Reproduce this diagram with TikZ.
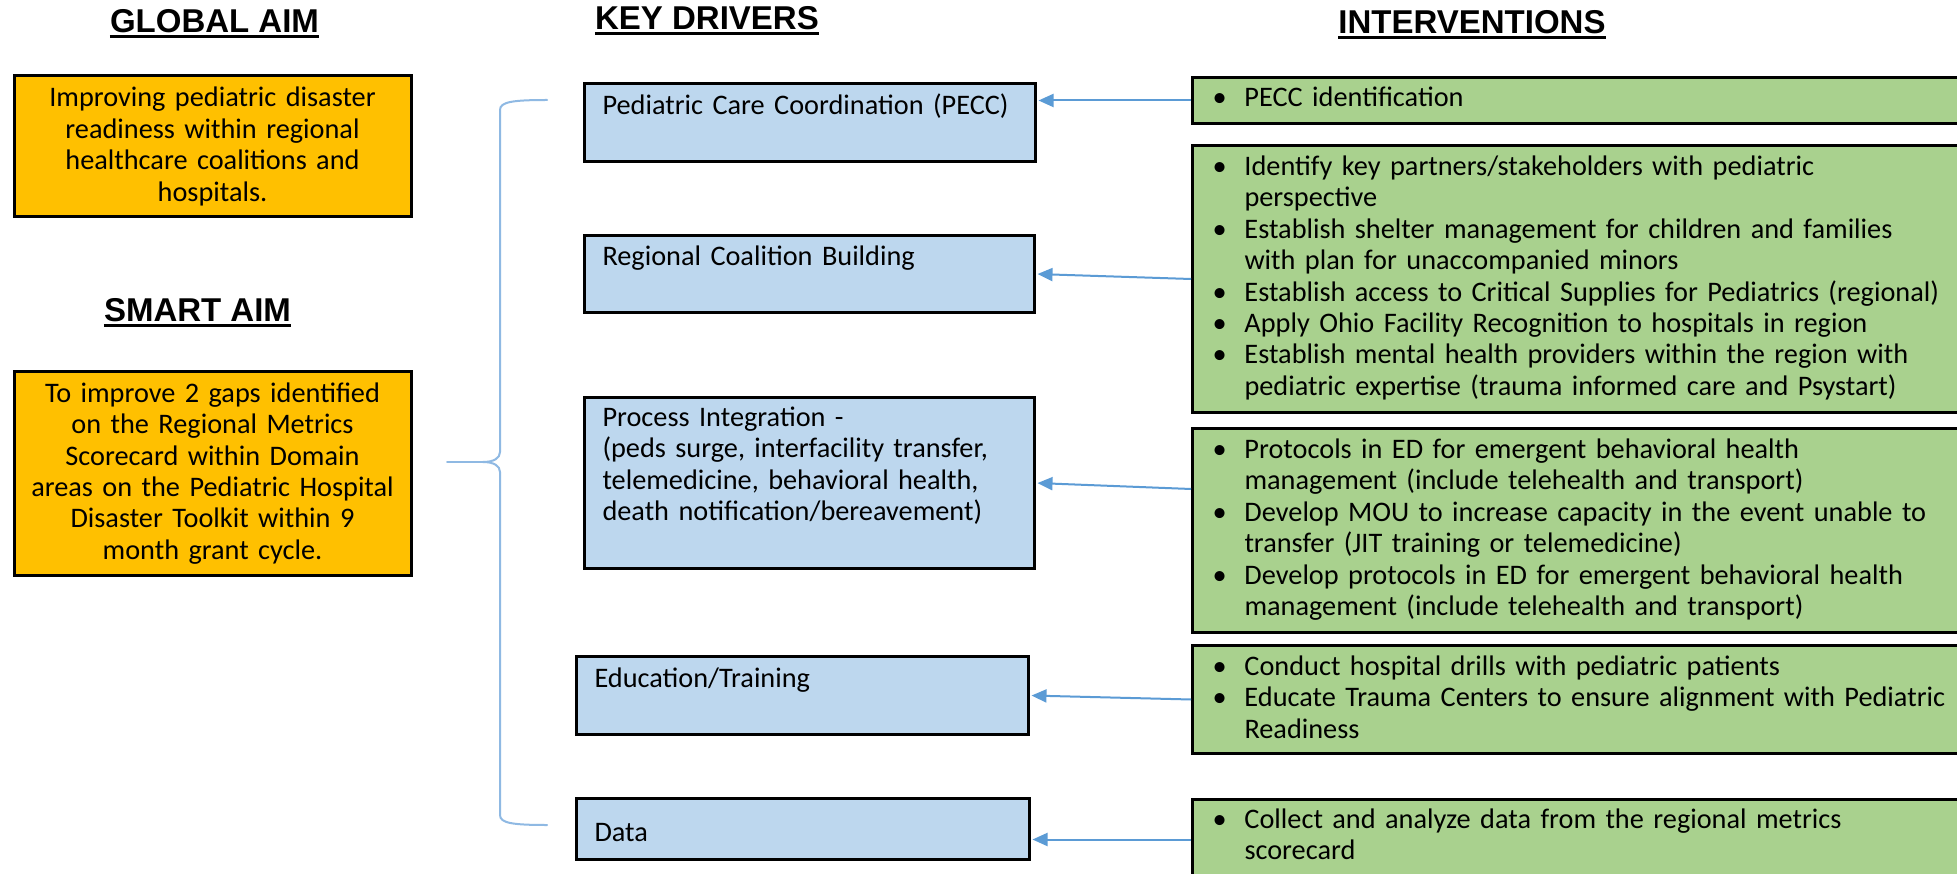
\documentclass[tikz,border=0pt]{standalone}
\usepackage{fontspec}
\setmainfont{Carlito}
\newfontfamily\headfont{Liberation Sans}
\usetikzlibrary{arrows.meta,calc}

\definecolor{aimorange}{HTML}{FFC000}
\definecolor{drvblue}{HTML}{BDD7EE}
\definecolor{actgreen}{HTML}{A9D18E}
\definecolor{arrowblue}{HTML}{5B9BD5}
\definecolor{braceblue}{HTML}{8FB9E3}

\newcommand{\bodysize}{\fontsize{28.3pt}{31.4pt}\selectfont}
% one bulleted entry with a hanging indent for its continuation lines
\newcommand{\bitem}[1]{\hangindent=32pt\hangafter=1\makebox[32pt][l]{\textbullet}#1\par}

\begin{document}
\begin{tikzpicture}[x=1pt,y=-1pt,
  heading/.style={font=\headfont\bfseries\fontsize{33pt}{38pt}\selectfont, inner sep=0pt, anchor=base},
  uline/.style={line width=2.5pt},
  aim/.style={draw=black, line width=3pt, fill=aimorange, inner sep=0pt, align=center,
              text width=390pt, minimum width=397pt, font=\bodysize},
  driver/.style={draw=black, line width=3pt, fill=drvblue, anchor=north west,
                 inner xsep=18pt, inner ysep=0pt, font=\bodysize},
  action/.style={draw=black, line width=3pt, fill=actgreen, anchor=north west,
                 inner xsep=20pt, inner ysep=0pt, text width=760pt, font=\bodysize},
  feed/.style={draw=arrowblue, line width=2pt, -{Triangle[length=15pt,width=13pt]}, shorten >=1.5pt},
  brace/.style={draw=braceblue, line width=2pt, line cap=round},
]
\useasboundingbox[fill=white] (0,0) rectangle (1957,874);

% column headings
\node[heading] (hglobal) at (214.5,33) {GLOBAL AIM};
\node[heading] (hsmart)  at (197.5,322) {SMART AIM};
\node[heading] (hkey)    at (707,30) {KEY DRIVERS};
\node[heading] (hint)    at (1472,34) {INTERVENTIONS};
\foreach \h in {hglobal,hsmart,hkey,hint}
  \draw[uline] ([yshift=-3.5pt]\h.base west) -- ([yshift=-3.5pt]\h.base east);

% aims
\node[aim, minimum height=141pt] (global) at (212.5,146.5)
  {Improving pediatric disaster\\ readiness within regional\\ healthcare coalitions and\\ hospitals.};
\node[aim, minimum height=203pt] (smart) at (212.5,473.5)
  {To improve 2 gaps identified\\ on the Regional Metrics\\ Scorecard within Domain\\ areas on the Pediatric Hospital\\ Disaster Toolkit within 9\\ month grant cycle.};

% key drivers
\node[driver, text width=415pt, text height=31pt, text depth=47pt] (pecc) at (583,82)
  {Pediatric Care Coordination (PECC)};
\node[driver, text width=414pt, text height=30pt, text depth=47pt] (reg) at (583,234)
  {Regional Coalition Building};
\node[driver, text width=414pt, text height=29pt, text depth=142pt] (proc) at (583,396)
  {Process Integration -\\ (peds surge, interfacility transfer,\\ telemedicine, behavioral health,\\ death notification/bereavement)};
\node[driver, text width=416pt, text height=31pt, text depth=47pt] (edu) at (575,655)
  {Education/Training};
\node[driver, text width=417pt, text height=43pt, text depth=18pt] (data) at (575,797)
  {Data};

% interventions
\node[action, text height=29pt, text depth=17pt] (g1) at (1191,76)
  {\bitem{PECC identification}};
\node[action, text height=30pt, text depth=237pt] (g2) at (1191,144)
  {\bitem{Identify key partners/stakeholders with pediatric\newline perspective}
   \bitem{Establish shelter management for children and families\newline with plan for unaccompanied minors}
   \bitem{Establish access to Critical Supplies for Pediatrics (regional)}
   \bitem{Apply Ohio Facility Recognition to hospitals in region}
   \bitem{Establish mental health providers within the region with\newline pediatric expertise (trauma informed care and Psystart)}};
\node[action, text height=30pt, text depth=174pt] (g3) at (1191,427)
  {\bitem{Protocols in ED for emergent behavioral health\newline management (include telehealth and transport)}
   \bitem{Develop MOU to increase capacity in the event unable to\newline transfer (JIT training or telemedicine)}
   \bitem{Develop protocols in ED for emergent behavioral health\newline management (include telehealth and transport)}};
\node[action, text height=30pt, text depth=78pt] (g4) at (1191,644)
  {\bitem{Conduct hospital drills with pediatric patients}
   \bitem{Educate Trauma Centers to ensure alignment with Pediatric\newline Readiness}};
\node[action, text height=29pt, text depth=51pt] (g5) at (1191,798)
  {\bitem{Collect and analyze data from the regional metrics\newline scorecard}};

% interventions feed the drivers
\draw[feed] (g1.west) -- (g1.west -| pecc.east);
\draw[feed] (g2.west) -- (reg.east);
\draw[feed] ($(g3.west |- proc.east)+(0,6)$) -- (proc.east);
\draw[feed] (g4.west) -- (edu.east);
\draw[feed] (g5.west) -- (g5.west -| data.east);

% curly brace grouping the drivers under the aims
\coordinate (btop) at (547,100);
\coordinate (btip) at (447,462);
\coordinate (bfork) at (483,462);
\coordinate (bbot) at (547,825);
\draw[brace] (btop) .. controls (512,100) and (500,102) .. (500,110)
  -- (500,452) .. controls (500,458) and (494,462) .. (bfork)
  .. controls (494,462) and (500,466) .. (500,472)
  -- (500,815) .. controls (500,823) and (512,825) .. (bbot);
\draw[brace] (bfork) -- (btip);
\end{tikzpicture}
\end{document}
